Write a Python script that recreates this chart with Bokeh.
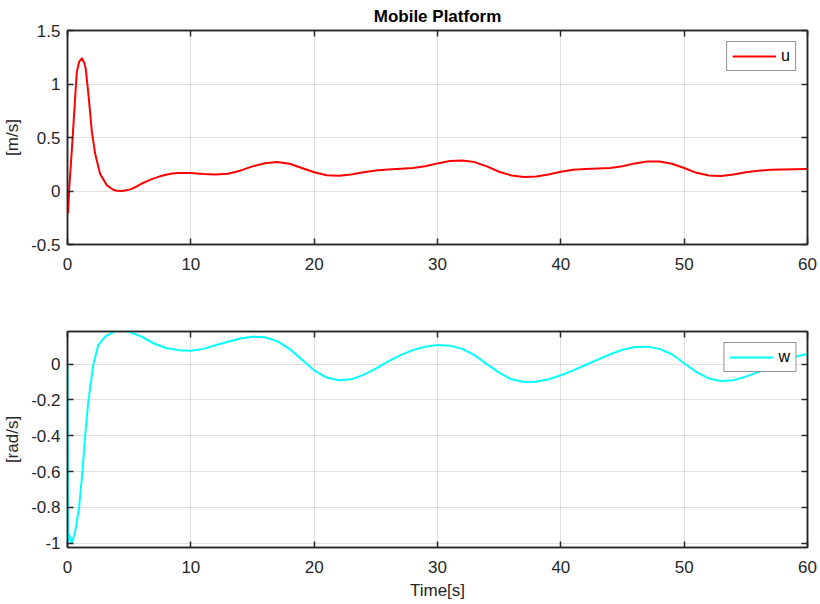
from bokeh.plotting import figure
from bokeh.layouts import column
from bokeh.models import Range1d, FixedTicker, LinearAxis, Legend, LegendItem
from bokeh.embed import file_html
from bokeh.resources import INLINE

# ---------------- data ----------------
t_u = [0, 0.06, 0.13, 0.35, 0.57, 0.75, 0.95, 1.16, 1.35, 1.48, 1.7, 1.97, 2.24, 2.64, 3.18,
       3.7, 4.0, 4.4, 4.8, 5.2, 5.6, 6.0, 6.5, 7.0, 7.5, 8.0, 8.5, 9.0, 10.0, 11.0, 12.0, 13.0,
       14.0, 15.0, 16.0, 17.0,
       18.0, 19.0, 20.0, 21.0, 22.0, 23.0, 24.0, 25.0, 26.0, 27.0, 28.0, 29.0, 30.0,
       31.0, 32.0, 33.0, 34.0, 35.0, 36.0, 37.0, 38.0, 39.0, 40.0, 41.0, 42.0, 43.0,
       44.0, 45.0, 46.0, 47.0, 48.0, 49.0, 50.0, 51.0, 52.0, 53.0, 54.0, 55.0, 56.0,
       57.0, 58.0, 59.0, 60.0]
u = [0, -0.2, 0.01, 0.38, 0.78, 1.11, 1.21, 1.24, 1.2, 1.14, 0.9, 0.56, 0.35, 0.16, 0.055,
     0.012, 0.003, 0.0, 0.006, 0.02, 0.042, 0.068, 0.095, 0.118, 0.137, 0.152, 0.163, 0.169,
     0.168, 0.16, 0.155, 0.162, 0.19, 0.23, 0.26, 0.272,
     0.255, 0.215, 0.175, 0.148, 0.142, 0.155, 0.175, 0.192, 0.202, 0.208, 0.215, 0.232, 0.258,
     0.28, 0.285, 0.27, 0.23, 0.18, 0.145, 0.13, 0.135, 0.155, 0.18, 0.198, 0.205, 0.21,
     0.215, 0.232, 0.258, 0.275, 0.275, 0.255, 0.215, 0.17, 0.145, 0.14, 0.155, 0.175, 0.19,
     0.198, 0.202, 0.204, 0.205]

t_w = [0, 0.04, 0.13, 0.35, 0.62, 0.94, 1.21, 1.43, 1.7, 2.1, 2.5, 3.05, 3.85, 4.4, 4.93,
       6.0, 7.0, 8.0, 9.0, 10.0, 11.0, 12.0, 13.0, 14.0,
       15.0, 16.0, 17.0, 18.0, 19.0, 20.0, 21.0, 22.0, 23.0, 24.0, 25.0, 26.0, 27.0, 28.0,
       29.0, 30.0, 31.0, 32.0, 33.0, 34.0, 35.0, 36.0, 37.0, 38.0, 39.0, 40.0, 41.0, 42.0,
       43.0, 44.0, 45.0, 46.0, 47.0, 48.0, 49.0, 50.0, 51.0, 52.0, 53.0, 54.0, 55.0, 56.0,
       57.0, 58.0, 59.0, 60.0]
w = [0, -0.99, -0.95, -1.0, -0.935, -0.8, -0.6, -0.4, -0.2, 0.0, 0.106, 0.153, 0.184, 0.187, 0.182,
     0.153, 0.115, 0.09, 0.078, 0.075, 0.085, 0.105, 0.125, 0.143,
     0.153, 0.15, 0.128, 0.085, 0.025, -0.035, -0.075, -0.09, -0.085, -0.06, -0.025, 0.015, 0.05, 0.078,
     0.097, 0.106, 0.103, 0.085, 0.05, 0.0, -0.048, -0.085, -0.1, -0.098, -0.085, -0.062, -0.035, -0.005,
     0.025, 0.055, 0.08, 0.095, 0.097, 0.085, 0.055, 0.005, -0.045, -0.08, -0.095, -0.09, -0.07, -0.045,
     -0.015, 0.015, 0.04, 0.058]

x_ticks = [0, 10, 20, 30, 40, 50, 60]
x_tick_labels = ["0", "10", "20", "30", "40", "50", "60"]
u_ticks = [-0.5, 0, 0.5, 1, 1.5]
u_tick_labels = ["-0.5", "0", "0.5", "1", "1.5"]
w_ticks = [-1, -0.8, -0.6, -0.4, -0.2, 0]
w_tick_labels = ["-1", "-0.8", "-0.6", "-0.4", "-0.2", "0"]

title_text = "Mobile Platform"
x_label = "Time[s]"
u_label = "[m/s]"
w_label = "[rad/s]"
u_name = "u"
w_name = "w"

# ---------------- styling ----------------
FONT = "Liberation Sans"
DARK = "#262626"
FS = "17px"
W = 820


def style_axis(ax, ticks, labels, show_labels=True):
    ax.ticker = FixedTicker(ticks=ticks)
    ax.axis_line_color = DARK
    ax.axis_line_width = 1.5
    ax.major_tick_line_color = DARK
    ax.major_tick_line_width = 1.5
    ax.major_tick_in = 6
    ax.major_tick_out = 0
    ax.minor_tick_line_color = None
    ax.major_label_text_font = FONT
    ax.major_label_text_color = DARK
    ax.major_label_text_font_size = FS
    ax.axis_label_text_font = FONT
    ax.axis_label_text_font_size = FS
    ax.axis_label_text_font_style = "normal"
    ax.axis_label_text_color = DARK
    if show_labels:
        ax.major_label_overrides = {tk: lb for tk, lb in zip(ticks, labels)}
    else:
        ax.major_label_overrides = {tk: "" for tk in ticks}
        ax.major_label_standoff = 0


def make_fig(height, top, bottom, yr, yticks, ylabels, ylab):
    p = figure(width=W, height=height, output_backend="svg", toolbar_location=None,
               x_range=Range1d(0, 60), y_range=Range1d(*yr),
               min_border_left=66, min_border_right=13,
               min_border_top=top, min_border_bottom=bottom,
               background_fill_color="white", border_fill_color="white")
    p.outline_line_color = DARK
    p.outline_line_width = 1.5
    xb = p.below[0]
    yl = p.left[0]
    style_axis(xb, x_ticks, x_tick_labels)
    style_axis(yl, yticks, ylabels)
    xb.major_label_standoff = 13
    yl.major_label_standoff = 7
    yl.axis_label = ylab
    yl.axis_label_standoff = 6
    ax_top = LinearAxis()
    style_axis(ax_top, x_ticks, x_tick_labels, show_labels=False)
    p.add_layout(ax_top, "above")
    ax_right = LinearAxis()
    style_axis(ax_right, yticks, ylabels, show_labels=False)
    p.add_layout(ax_right, "right")
    p.xgrid.ticker = FixedTicker(ticks=x_ticks)
    p.ygrid.ticker = FixedTicker(ticks=yticks)
    for g in (p.xgrid, p.ygrid):
        g.grid_line_color = DARK
        g.grid_line_alpha = 0.15
        g.grid_line_width = 1
    return p, xb


p1, xb1 = make_fig(290, 29, 46, (-0.5, 1.5), u_ticks, u_tick_labels, u_label)
p1.title.text = title_text
p1.title.align = "center"
p1.title.text_font = FONT
p1.title.text_font_size = FS
p1.title.text_font_style = "bold"
p1.title.text_color = "black"
p1.title.standoff = 9
r1 = p1.line(t_u, u, line_color="#ff0000", line_width=2, line_join="round")
leg1 = Legend(items=[LegendItem(label=u_name, renderers=[r1])], location="top_right")

p2, xb2 = make_fig(312, 41, 55, (-1.024, 0.182), w_ticks, w_tick_labels, w_label)
xb2.axis_label = x_label
xb2.axis_label_standoff = 5
r2 = p2.line(t_w, w, line_color="#00ffff", line_width=2, line_join="round")
leg2 = Legend(items=[LegendItem(label=w_name, renderers=[r2])], location="top_right")

for p, lg in ((p1, leg1), (p2, leg2)):
    lg.margin = 11
    lg.padding = 5
    lg.spacing = 0
    lg.glyph_width = 44
    lg.glyph_height = 16
    lg.label_height = 16
    lg.label_width = 8
    lg.label_standoff = 5
    lg.label_text_font = FONT
    lg.label_text_font_size = "16px"
    lg.label_text_color = "black"
    lg.border_line_color = DARK
    lg.border_line_width = 1.5
    lg.background_fill_color = "white"
    lg.background_fill_alpha = 1
    p.add_layout(lg)

layout = column(p1, p2, spacing=0)
open("out.html", "w").write(file_html(layout, INLINE))
